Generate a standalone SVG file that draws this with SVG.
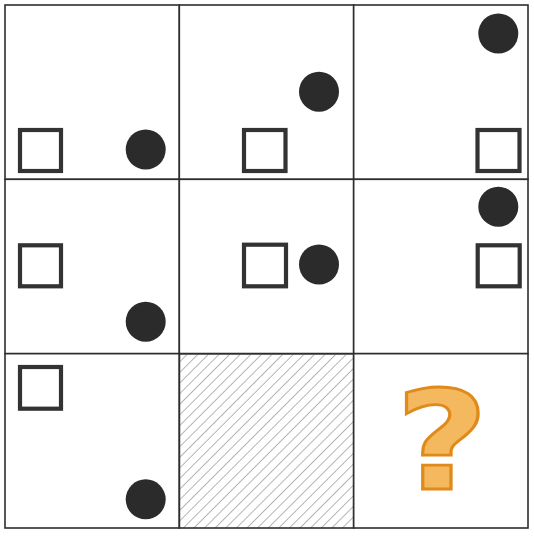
<svg xmlns="http://www.w3.org/2000/svg" width="534" height="536" viewBox="0 0 534 536">
<style>
.cell{fill:#fff;stroke:#2e2e2e;stroke-width:1.6}
.sq{fill:#fff;stroke:#333;stroke-width:4.2}
.dot{fill:#2b2b2b}
.q{font-family:"DejaVu Sans",sans-serif;font-weight:bold;font-size:137px;fill:#F4B95F;stroke:#E08A1C;stroke-width:2.8;text-anchor:middle}
</style>
<defs>
<pattern id="hatch" patternUnits="userSpaceOnUse" width="7.5" height="7.5" patternTransform="rotate(45)">
<line x1="0" y1="0" x2="0" y2="7.5" stroke="#8e8e8e" stroke-width="1.3"/>
</pattern>
</defs>
<rect width="534" height="536" fill="#fff"/>
<g id="c00"><rect class="cell" x="5" y="5" width="174.33" height="174.33"/><rect class="sq" x="20" y="130" width="41" height="41"/><circle class="dot" cx="145.7" cy="149.5" r="20"/></g>
<g id="c01"><rect class="cell" x="179.33" y="5" width="174.33" height="174.33"/><rect class="sq" x="244" y="130" width="41.5" height="41"/><circle class="dot" cx="319" cy="91.7" r="20"/></g>
<g id="c02"><rect class="cell" x="353.67" y="5" width="174.33" height="174.33"/><rect class="sq" x="477.5" y="130" width="42" height="41"/><circle class="dot" cx="498.3" cy="33.5" r="20"/></g>
<g id="c10"><rect class="cell" x="5" y="179.33" width="174.33" height="174.33"/><rect class="sq" x="20" y="245.3" width="41" height="41"/><circle class="dot" cx="145.7" cy="321.7" r="20"/></g>
<g id="c11"><rect class="cell" x="179.33" y="179.33" width="174.33" height="174.33"/><rect class="sq" x="244" y="244.7" width="42" height="41.6"/><circle class="dot" cx="319" cy="264.5" r="20"/></g>
<g id="c12"><rect class="cell" x="353.67" y="179.33" width="174.33" height="174.33"/><rect class="sq" x="477.7" y="245.3" width="42" height="41"/><circle class="dot" cx="498.3" cy="206.7" r="20"/></g>
<g id="c20"><rect class="cell" x="5" y="353.67" width="174.33" height="174.33"/><rect class="sq" x="20" y="367" width="41" height="41.7"/><circle class="dot" cx="145.7" cy="499.3" r="20"/></g>
<g id="c21"><rect class="cell" x="179.33" y="353.67" width="174.33" height="174.33" style="fill:url(#hatch)"/></g>
<g id="c22"><rect class="cell" x="353.67" y="353.67" width="174.33" height="174.33"/><text class="q" transform="translate(442,489) scale(1.17,1)" x="0" y="0">?</text></g>
</svg>
